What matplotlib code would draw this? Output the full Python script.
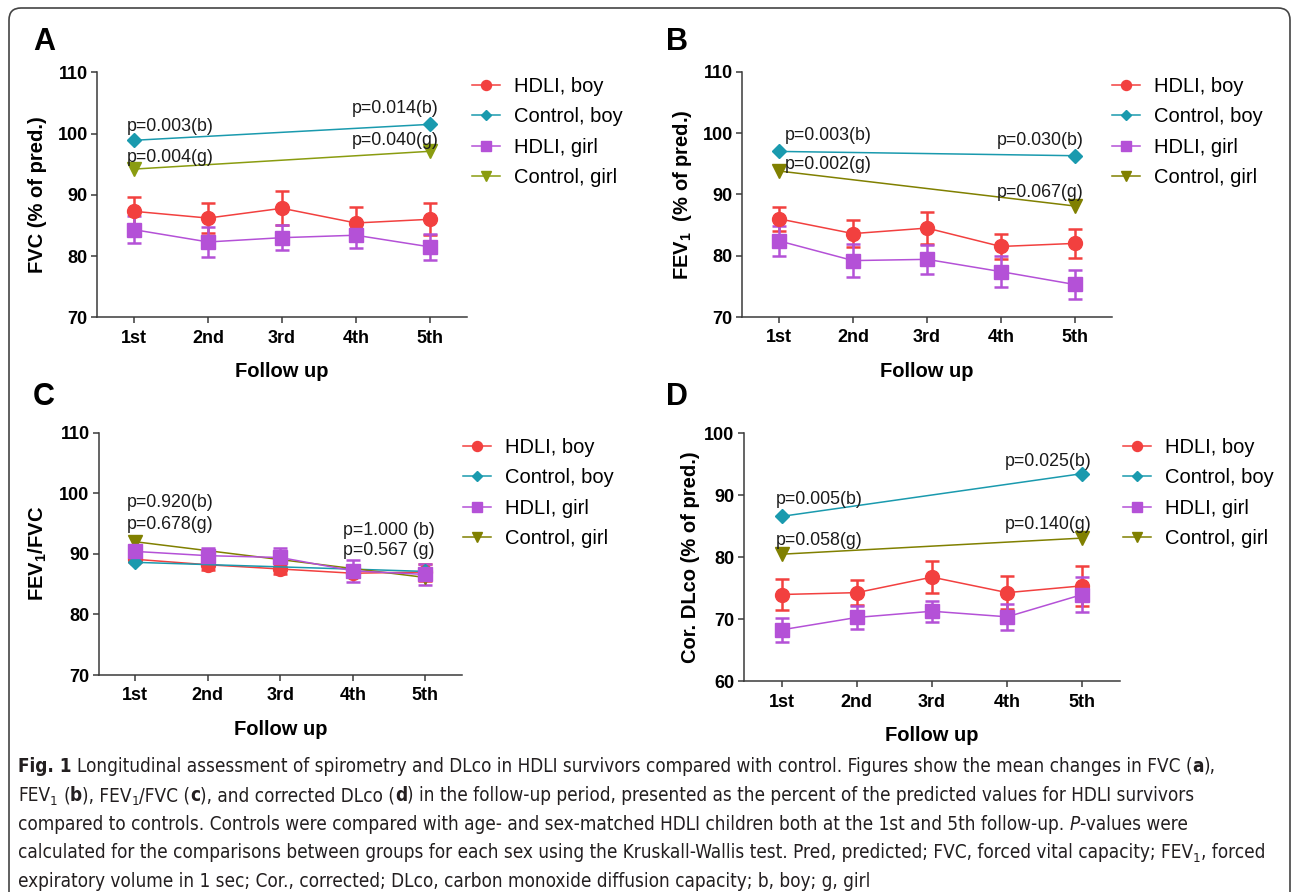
import matplotlib
matplotlib.use("Agg")
import matplotlib.pyplot as plt
from matplotlib import font_manager
from matplotlib.patches import FancyBboxPatch
from matplotlib.transforms import IdentityTransform

# ---- data ----
visits = ["1st", "2nd", "3rd", "4th", "5th"]
x_all = [1, 2, 3, 4, 5]
x_ctrl = [1, 5]
series_names = ["HDLI, boy", "Control, boy", "HDLI, girl", "Control, girl"]

# A: FVC (% of pred.)
a_hdli_boy = [87.3, 86.2, 87.8, 85.4, 86.0]
a_hdli_boy_err = [2.3, 2.4, 2.8, 2.6, 2.6]
a_hdli_girl = [84.3, 82.3, 83.0, 83.4, 81.5]
a_hdli_girl_err = [2.2, 2.4, 2.0, 2.1, 2.1]
a_ctrl_boy = [98.9, 101.5]
a_ctrl_girl = [94.2, 97.1]

# B: FEV1 (% of pred.)
b_hdli_boy = [86.0, 83.6, 84.5, 81.5, 82.0]
b_hdli_boy_err = [2.0, 2.2, 2.6, 2.1, 2.4]
b_hdli_girl = [82.4, 79.2, 79.4, 77.4, 75.3]
b_hdli_girl_err = [2.4, 2.7, 2.4, 2.5, 2.4]
b_ctrl_boy = [97.0, 96.3]
b_ctrl_girl = [93.8, 88.1]

# C: FEV1/FVC
c_hdli_boy = [89.1, 88.2, 87.5, 86.8, 87.0]
c_hdli_boy_err = [0.5, 0.8, 0.8, 0.7, 1.4]
c_hdli_girl = [90.4, 89.7, 89.4, 87.2, 86.6]
c_hdli_girl_err = [1.0, 1.2, 1.5, 1.8, 1.8]
c_ctrl_boy = [88.6, 87.1]
c_ctrl_girl = [92.0, 86.1]

# D: corrected DLco (% of pred.)
d_hdli_boy = [74.0, 74.3, 76.8, 74.3, 75.4]
d_hdli_boy_err = [2.5, 2.0, 2.6, 2.7, 3.2]
d_hdli_girl = [68.3, 70.3, 71.3, 70.4, 74.0]
d_hdli_girl_err = [1.9, 1.8, 1.7, 2.1, 2.9]
d_ctrl_boy = [86.6, 93.5]
d_ctrl_girl = [80.5, 83.1]

# p-values: (series, point index, text)
a_pvals = [("cb", 0, "p=0.003(b)"), ("cb", 1, "p=0.014(b)"),
           ("cg", 0, "p=0.004(g)"), ("cg", 1, "p=0.040(g)")]
b_pvals = [("cb", 0, "p=0.003(b)"), ("cb", 1, "p=0.030(b)"),
           ("cg", 0, "p=0.002(g)"), ("cg", 1, "p=0.067(g)")]
c_pvals = [("cb", 0, "p=0.920(b)"), ("cb", 1, "p=1.000 (b)"),
           ("cg", 0, "p=0.678(g)"), ("cg", 1, "p=0.567 (g)")]
d_pvals = [("cb", 0, "p=0.005(b)"), ("cb", 1, "p=0.025(b)"),
           ("cg", 0, "p=0.058(g)"), ("cg", 1, "p=0.140(g)")]

# ---- style ----
plt.rcParams["font.family"] = ["Liberation Sans", "DejaVu Sans"]
plt.rcParams["mathtext.fontset"] = "custom"
plt.rcParams["mathtext.rm"] = "Liberation Sans"
plt.rcParams["mathtext.bf"] = "Liberation Sans:bold"
plt.rcParams["mathtext.it"] = "Liberation Sans:italic"

RED = "#f2403f"
TEAL = "#1a9aae"
PURPLE = "#b451d7"
OLIVE = "#808000"
SPINE = "#3a3a3a"

W, H = 1292, 892
fig = plt.figure(figsize=(W / 100, H / 100), dpi=100)

# rounded frame around the whole figure
frame = FancyBboxPatch((9, -30), 1281, 914, boxstyle="round,pad=0,rounding_size=12",
                       transform=IdentityTransform(), fill=False, ec="#444444", lw=1.2)
fig.patches.append(frame)


def panel(box, letter, letter_xy, boy, boy_err, girl, girl_err, cboy, cgirl,
          ylim, ylabel, ylab_off, pvals, pv_offsets, leg_xy, olive=OLIVE):
    l, t, r, b = box
    ax = fig.add_axes([l / W, 1 - b / H, (r - l) / W, (b - t) / H])

    ax.errorbar(x_all, boy, yerr=boy_err, fmt="none", ecolor=RED, elinewidth=1.8,
                capsize=5, capthick=1.8, zorder=3)
    ax.errorbar(x_all, girl, yerr=girl_err, fmt="none", ecolor=PURPLE, elinewidth=1.8,
                capsize=5, capthick=1.8, zorder=3)
    h1, = ax.plot(x_all, boy, color=RED, lw=1.1, marker="o", ms=10, zorder=4)
    h2, = ax.plot(x_ctrl, cboy, color=TEAL, lw=1.1, marker="D", ms=7.5, zorder=4)
    h3, = ax.plot(x_all, girl, color=PURPLE, lw=1.1, marker="s", ms=9.5, zorder=5)
    h4, = ax.plot(x_ctrl, cgirl, color=olive, lw=1.1, marker="v", ms=10, zorder=4)

    ctrl = {"cb": cboy, "cg": cgirl}
    for (key, i, txt), (dx, dy) in zip(pvals, pv_offsets):
        ax.annotate(txt, xy=(x_ctrl[i], ctrl[key][i]), xytext=(dx, dy),
                    textcoords="offset pixels", ha="left" if i == 0 else "right",
                    va="center", fontsize=12.8, color="#1a1a1a", zorder=6)

    ax.set_xlim(0.5, 5.5)
    ax.set_ylim(*ylim)
    ax.set_yticks(range(ylim[0], ylim[1] + 1, 10))
    ax.set_xticks(x_all, visits)
    for lab in ax.get_xticklabels() + ax.get_yticklabels():
        lab.set_fontweight("bold")
    ax.tick_params(direction="out", length=4.3, width=1.1, color=SPINE,
                   labelsize=13, pad=2.5)
    ax.tick_params(axis="x", pad=4.5)
    for s in ["top", "right"]:
        ax.spines[s].set_visible(False)
    for s in ["left", "bottom"]:
        ax.spines[s].set_color(SPINE)
        ax.spines[s].set_linewidth(1.1)

    ax.set_xlabel("Follow up", fontsize=14.5, fontweight="bold")
    ax.xaxis.set_label_coords(0.5, -45 / (b - t))
    ax.set_ylabel(ylabel, fontsize=14.5, fontweight="bold")
    ax.yaxis.set_label_coords(-ylab_off / (r - l), 0.5)

    fig.text(letter_xy[0] / W, 1 - letter_xy[1] / H, letter, fontsize=22,
             fontweight="bold", ha="left", va="baseline")

    ax.legend([h1, h2, h3, h4], series_names, loc="upper left",
              bbox_to_anchor=(leg_xy[0] / W, 1 - (leg_xy[1] - 8) / H),
              bbox_transform=fig.transFigure, frameon=False, fontsize=14.5,
              borderpad=0, borderaxespad=0, handlelength=1.4, handletextpad=0.7,
              labelspacing=0.57, markerscale=0.72)
    return ax


panel((97.3, 72.3, 466.7, 317.3), "A", (33, 50),
      a_hdli_boy, a_hdli_boy_err, a_hdli_girl, a_hdli_girl_err, a_ctrl_boy, a_ctrl_girl,
      (70, 110), "FVC (% of pred.)", 50, a_pvals,
      [(-7, 14), (9, 16), (-7, 12), (9, 11)], (472, 85), olive="#8a9c10")
panel((742.3, 71.7, 1111.7, 317.0), "B", (666, 50),
      b_hdli_boy, b_hdli_boy_err, b_hdli_girl, b_hdli_girl_err, b_ctrl_boy, b_ctrl_girl,
      (70, 110), r"FEV$_{\mathbf{1}}$  (% of pred.)", 48, b_pvals,
      [(6, 16), (9, 15), (6, 7), (9, 14)], (1112, 85))
panel((99.0, 432.7, 461.7, 675.0), "C", (33, 405),
      c_hdli_boy, c_hdli_boy_err, c_hdli_girl, c_hdli_girl_err, c_ctrl_boy, c_ctrl_girl,
      (70, 110), r"FEV$_{\mathbf{1}}$/FVC", 50, c_pvals,
      [(-8, 60), (9, 41), (-8, 17), (9, 27)], (463, 446))
panel((744.0, 433.3, 1120.0, 681.3), "D", (666, 405),
      d_hdli_boy, d_hdli_boy_err, d_hdli_girl, d_hdli_girl_err, d_ctrl_boy, d_ctrl_girl,
      (60, 100), "Cor. DLco (% of pred.)", 44, d_pvals,
      [(-6, 17), (9, 12), (-6, 14), (9, 14)], (1123, 446))

# ---- caption ----
names = {f.name for f in font_manager.fontManager.ttflist}
if "Liberation Sans Narrow" in names:
    cap_family, cap_stretch = "Liberation Sans Narrow", "normal"
else:
    cap_family, cap_stretch = "DejaVu Sans", "condensed"
CAP_COLOR = "#231f20"

caption = [
    [("Fig. 1", "b"), (" Longitudinal assessment of spirometry and DLco in HDLI survivors "
                       "compared with control. Figures show the mean changes in FVC (", "n"),
     ("a", "b"), ("),", "n")],
    [("FEV", "n"), ("1", "sub"), (" (", "n"), ("b", "b"), ("), FEV", "n"), ("1", "sub"),
     ("/FVC (", "n"), ("c", "b"), ("), and corrected DLco (", "n"), ("d", "b"),
     (") in the follow-up period, presented as the percent of the predicted values for "
      "HDLI survivors", "n")],
    [("compared to controls. Controls were compared with age- and sex-matched HDLI "
      "children both at the 1st and 5th follow-up. ", "n"), ("P", "i"), ("-values were", "n")],
    [("calculated for the comparisons between groups for each sex using the "
      "Kruskall-Wallis test. Pred, predicted; FVC, forced vital capacity; FEV", "n"),
     ("1", "sub"), (", forced", "n")],
    [("expiratory volume in 1 sec; Cor., corrected; DLco, carbon monoxide diffusion "
      "capacity; b, boy; g, girl", "n")],
]
cap_baselines = [772, 801, 830, 858, 887]

renderer = fig.canvas.get_renderer()


def text_width(s, size, **kw):
    t = fig.text(0, 0, s, fontsize=size, family=cap_family, fontstretch=cap_stretch,
                 transform=IdentityTransform(), **kw)
    w = t.get_window_extent(renderer).width
    t.remove()
    return w


def draw_runs(x, y, runs, size, draw=True):
    space = text_width("n n", size) - text_width("nn", size)
    for s, style in runs:
        kw = {}
        fs = size
        yy = y
        if style == "b":
            kw["fontweight"] = "bold"
        elif style == "i":
            kw["fontstyle"] = "italic"
        elif style == "sub":
            fs = size * 0.7
            yy = y - size * 0.3
        lead = len(s) - len(s.lstrip(" "))
        trail = len(s) - len(s.rstrip(" "))
        core = s.strip(" ")
        x += lead * space
        t = fig.text(x, yy, core, fontsize=fs, family=cap_family, fontstretch=cap_stretch,
                     color=CAP_COLOR, transform=IdentityTransform(), va="baseline",
                     ha="left", **kw)
        x += t.get_window_extent(renderer).width
        if not draw:
            t.remove()
        x += trail * space
    return x


# pick the caption size so the first line spans the same width as in the figure
w10 = draw_runs(18, 0, caption[0], 10, draw=False) - 18
cap_size = 10 * 1200 / w10
for runs, yb in zip(caption, cap_baselines):
    draw_runs(18, H - yb, runs, cap_size)

fig.savefig("out.png", dpi=100)
